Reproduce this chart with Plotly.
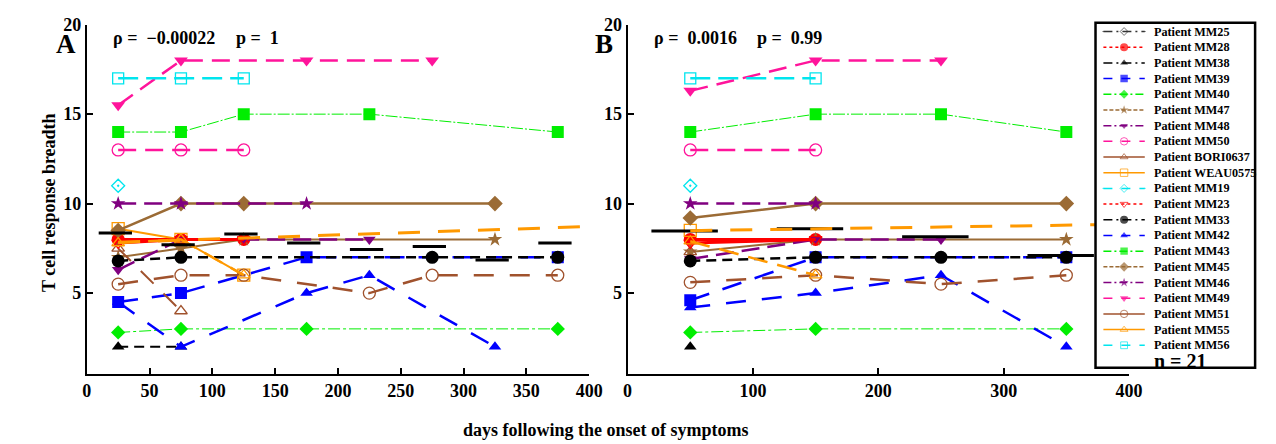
import plotly.graph_objects as go

W, H = 1276, 444
N = None

# ---------------- data ----------------
patients = ["Patient MM25", "Patient MM28", "Patient MM38", "Patient MM39", "Patient MM40",
            "Patient MM47", "Patient MM48", "Patient MM50", "Patient BORI0637", "Patient WEAU0575",
            "Patient MM19", "Patient MM23", "Patient MM33", "Patient MM42", "Patient MM43",
            "Patient MM45", "Patient MM46", "Patient MM49", "Patient MM51", "Patient MM55",
            "Patient MM56"]

# Panel A: 50-day bins
days_A = [25, 75, 125, 175, 225, 275, 325, 375]
MM25_A = [N, N, N, N, N, N, N, N]
MM28_A = [8, 8, 8, N, N, N, N, N]
MM38_A = [2, 2, N, N, N, N, N, N]
MM39_A = [4.5, 5, N, 7, N, N, N, 7]
MM40_A = [2.8, 3, N, 3, N, N, N, 3]
MM47_A = [7, 7.5, 8, N, N, N, 8, N]
MM48_A = [6.3, 8, 8, N, 8, N, N, N]
MM50_A = [13, 13, 13, N, N, N, N, N]
BORI0637_A = [7.5, 4, N, N, N, N, N, N]
WEAU0575_A = [8.6, 8, 6, N, N, N, N, N]
MM19_A = [11, N, N, N, N, N, N, N]
MM23_A = [7.8, 8, 8, N, N, N, N, N]
MM33_A = [6.8, 7, N, N, N, 7, N, 7]
MM42_A = [4.5, 2, N, 5, 6, N, 2, N]
MM43_A = [14, 14, 15, N, 15, N, N, 14]
MM45_A = [8.5, 10, 10, N, N, N, 10, N]
MM46_A = [10, 10, N, 10, N, N, N, N]
MM49_A = [15.5, 18, N, 18, N, 18, N, N]
MM51_A = [5.5, 6, 6, N, 5, 6, N, 6]
MM55_A = [7.8, 8, 6, N, N, N, N, N]
MM56_A = [17, 17, 17, N, N, N, N, N]

# Panel B: 100-day bins
days_B = [50, 150, 250, 350]
MM25_B = [N, N, N, N]
MM28_B = [8, 8, N, N]
MM38_B = [2, N, N, N]
MM39_B = [4.6, 7, N, 7]
MM40_B = [2.8, 3, N, 3]
MM47_B = [7.3, 8, N, 8]
MM48_B = [6.9, 8, 8, N]
MM50_B = [13, 13, N, N]
BORI0637_B = [7.3, N, N, N]
WEAU0575_B = [8.5, N, N, N]
MM19_B = [11, N, N, N]
MM23_B = [7.8, 8, N, N]
MM33_B = [6.8, 7, 7, 7]
MM42_B = [4.2, 5, 6, 2]
MM43_B = [14, 15, 15, 14]
MM45_B = [9.2, 10, N, 10]
MM46_B = [10, 10, N, N]
MM49_B = [16.3, 18, 18, N]
MM51_B = [5.6, 6, 5.5, 6]
MM55_B = [7.9, 6, N, N]
MM56_B = [17, 17, N, N]

series_A = [MM25_A, MM28_A, MM38_A, MM39_A, MM40_A, MM47_A, MM48_A, MM50_A, BORI0637_A,
            WEAU0575_A, MM19_A, MM23_A, MM33_A, MM42_A, MM43_A, MM45_A, MM46_A, MM49_A,
            MM51_A, MM55_A, MM56_A]
series_B = [MM25_B, MM28_B, MM38_B, MM39_B, MM40_B, MM47_B, MM48_B, MM50_B, BORI0637_B,
            WEAU0575_B, MM19_B, MM23_B, MM33_B, MM42_B, MM43_B, MM45_B, MM46_B, MM49_B,
            MM51_B, MM55_B, MM56_B]

# bin means (black bars)
bin_starts_A = [0, 50, 100, 150, 200, 250, 300, 350]
bin_means_A = [8.36, 7.7, 8.3, 7.8, 7.43, 7.6, 6.85, 7.8]
bin_starts_B = [0, 100, 200, 300]
bin_means_B = [8.47, 8.6, 8.15, 7.1]

# trend lines
trend_days_A = [25, 400]
trend_A = [7.84, 8.72]
trend_days_B = [50, 375]
trend_B = [8.49, 8.82]

stats_A = ("ρ =\u00a0 −0.00022", "p =\u00a0 1")
stats_B = ("ρ =\u00a0 0.0016", "p =\u00a0 0.99")
n_text = "n = 21"

# ---------------- styles ----------------
RED, BLK, BLU, GRN = "#ff0000", "#000000", "#0000ff", "#00ee00"
BRN, PUR, MAG, SIE = "#9b6b35", "#800080", "#ff149b", "#a0522d"
ORA, CYA = "#ff9900", "#00e5ee"
styles = [
    ("#333333", "diamond-open-dot", 9, "9px,3px,3px,3px", 1.5),
    (RED, "circle", 13, "solid", 3),
    (BLK, "triangle-up", 11, "10px,6px", 2),
    (BLU, "square", 12, "20px,14px", 2.5),
    (GRN, "diamond", 11, "12px,3px,3px,3px", 1),
    (BRN, "star", 11, "solid", 2),
    (PUR, "triangle-down", 11, "18px,8px", 2.5),
    (MAG, "circle-open", 12, "18px,9px", 2.5),
    (SIE, "triangle-up-open", 11, "18px,14px", 2),
    (ORA, "square-open", 12, "solid", 2),
    (CYA, "diamond-open-dot", 10, "18px,8px", 2.5),
    (RED, "triangle-down-open", 11, "solid", 3),
    (BLK, "circle", 13, "10px,6px", 2.5),
    (BLU, "triangle-up", 11, "20px,16px", 2.5),
    (GRN, "square", 12, "12px,2px,2px,2px", 1),
    (BRN, "diamond", 12, "solid", 2.5),
    (PUR, "star", 11, "18px,8px", 2.5),
    (MAG, "triangle-down", 12, "18px,9px", 2.5),
    (SIE, "circle-open", 12, "20px,16px", 2.5),
    (ORA, "triangle-up-open", 11, "20px,10px", 2.5),
    (CYA, "square-open", 11, "20px,8px", 2.5),
]
legend_dash = ["9px,4px,2px,4px", "dot", "9px,4px,2px,4px", "dash", "8px,3px,2px,3px",
               "4px,2px", "8px,3px,2px,3px", "dash", "solid", "solid", "dash", "dot",
               "9px,4px,2px,4px", "dash", "8px,3px,2px,3px", "4px,2px", "8px,3px,2px,3px",
               "dash", "solid", "solid", "dash"]

FONT = "Liberation Serif"


def px_x(p):
    return p / W


def px_y(p):
    return 1 - p / H


fig = go.Figure()


def add_series(days, vals, st, xa, ya):
    color, sym, ms, dash, lw = st
    is_open = "open" in sym
    fig.add_trace(go.Scatter(
        x=days, y=vals, mode="lines+markers", connectgaps=True, showlegend=False,
        xaxis=xa, yaxis=ya,
        line=dict(color=color, width=lw, dash=dash),
        marker=dict(symbol=sym, size=ms, color=color,
                    line=dict(color=color, width=1.3 if is_open else 0)),
        hoverinfo="skip"))


for vals, st in zip(series_A, styles):
    add_series(days_A, vals, st, "x", "y")
for vals, st in zip(series_B, styles):
    add_series(days_B, vals, st, "x2", "y2")


def bar_trace(starts, means, width, xa, ya):
    xs, ys = [], []
    for s, m in zip(starts, means):
        xs += [s + 0.19 * width, s + 0.72 * width, None]
        ys += [m, m, None]
    fig.add_trace(go.Scatter(x=xs, y=ys, mode="lines", showlegend=False, xaxis=xa, yaxis=ya,
                             line=dict(color="black", width=3), hoverinfo="skip"))


bar_trace(bin_starts_A, bin_means_A, 50, "x", "y")
bar_trace(bin_starts_B, bin_means_B, 100, "x2", "y2")

fig.add_trace(go.Scatter(x=trend_days_A, y=trend_A, mode="lines", showlegend=False,
                         xaxis="x", yaxis="y", line=dict(color=ORA, width=3, dash="22px,18px"),
                         hoverinfo="skip"))
fig.add_trace(go.Scatter(x=trend_days_B, y=trend_B, mode="lines", showlegend=False,
                         xaxis="x2", yaxis="y2", line=dict(color=ORA, width=3, dash="22px,18px"),
                         hoverinfo="skip"))

# ---------------- manual legend ----------------
annotations = []
for i, (name, st, ld) in enumerate(zip(patients, styles, legend_dash)):
    color, sym, ms, dash, lw = st
    yi = 9 + 16.05 * i
    fig.add_trace(go.Scatter(
        x=[8, 29, 50], y=[yi, yi, yi], mode="lines+markers", showlegend=False,
        xaxis="x3", yaxis="y3",
        line=dict(color=color, width=1.5, dash=ld),
        marker=dict(symbol=sym, size=[0, max(6, ms * 0.62), 0], color=color,
                    line=dict(color=color, width=1 if "open" in sym else 0)),
        hoverinfo="skip"))
    annotations.append(dict(x=57, y=yi, xref="x3", yref="y3", text=name, showarrow=False,
                            xanchor="left", yanchor="middle",
                            font=dict(family=FONT, size=12.2, color="black", weight="bold")))

annotations.append(dict(x=px_x(1164), y=px_y(359), xref="paper", yref="paper", text=n_text,
                        showarrow=False, xanchor="left", yanchor="middle",
                        font=dict(family=FONT, size=20, color="black", weight="bold")))

# stats text & panel labels
for (txt, xp) in [(stats_A[0], 108), (stats_A[1], 232), (stats_B[0], 657), (stats_B[1], 761)]:
    annotations.append(dict(x=px_x(xp), y=px_y(29), xref="paper", yref="paper", text=txt,
                            showarrow=False, xanchor="left", yanchor="middle",
                            font=dict(family=FONT, size=18, color="black", weight="bold")))
for (txt, xp) in [("A", 62), ("B", 608)]:
    annotations.append(dict(x=px_x(xp), y=px_y(35), xref="paper", yref="paper", text=txt,
                            showarrow=False, xanchor="center", yanchor="middle",
                            font=dict(family=FONT, size=27, color="black", weight="bold")))

annotations.append(dict(x=px_x(610), y=px_y(430), xref="paper", yref="paper",
                        text="days following the onset of symptoms", showarrow=False,
                        xanchor="center", yanchor="middle",
                        font=dict(family=FONT, size=18, color="black", weight="bold")))
annotations.append(dict(x=px_x(44), y=px_y(197), xref="paper", yref="paper",
                        text="T cell response breadth", showarrow=False, textangle=-90,
                        xanchor="center", yanchor="middle",
                        font=dict(family=FONT, size=18, color="black", weight="bold")))

tickfont = dict(family=FONT, size=18, color="black", weight="bold")
axis_common = dict(showline=True, linewidth=2, linecolor="black", ticks="inside", ticklen=6,
                   tickwidth=2, tickcolor="black", showgrid=False, zeroline=False,
                   tickfont=tickfont, mirror=False, fixedrange=True)
ydom = [px_y(372), px_y(15)]

fig.update_layout(
    width=W, height=H, margin=dict(l=0, r=0, t=0, b=0), autosize=False,
    paper_bgcolor="white", plot_bgcolor="white", showlegend=False, dragmode=False,
    xaxis=dict(domain=[px_x(83), px_x(593)], range=[0, 400],
               tickvals=[0, 50, 100, 150, 200, 250, 300, 350, 400], anchor="y", **axis_common),
    yaxis=dict(domain=ydom, range=[0.5, 20], tickvals=[5, 10, 15, 20], anchor="x", **axis_common),
    xaxis2=dict(domain=[px_x(632), px_x(1141)], range=[0, 400],
                tickvals=[0, 100, 200, 300, 400], anchor="y2", **axis_common),
    yaxis2=dict(domain=ydom, range=[0.5, 20], tickvals=[5, 10, 15, 20], anchor="x2", **axis_common),
    xaxis3=dict(domain=[px_x(1107), px_x(1269)], range=[0, 162], visible=False, anchor="y3",
                fixedrange=True),
    yaxis3=dict(domain=[px_y(366), px_y(13)], range=[353, 0], visible=False, anchor="x3",
                fixedrange=True),
    annotations=annotations,
    shapes=[dict(type="rect", xref="paper", yref="paper", x0=px_x(1107), x1=px_x(1269),
                 y0=px_y(366), y1=px_y(13), line=dict(color="black", width=2.5),
                 fillcolor="rgba(0,0,0,0)", layer="above")],
)

fig.write_html("out.html", config={"staticPlot": True, "displayModeBar": False})
